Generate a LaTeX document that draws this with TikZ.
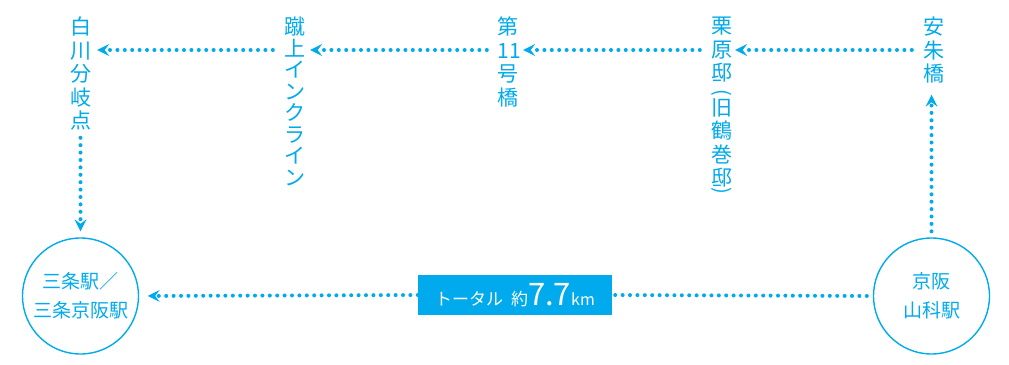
\documentclass[tikz,border=0pt]{standalone}
\usepackage{fontspec}
\setmainfont{Noto Sans CJK JP}
\usetikzlibrary{arrows.meta}
\definecolor{kc}{HTML}{00AAEC}
\tikzset{
  vlabel/.style={text=kc, inner sep=0pt, align=center, anchor=north, text width=21pt,
    font=\fontsize{21}{23.5}\selectfont},
  vparen/.style={text=kc, inner sep=0pt, rotate=-90, font=\fontsize{20}{20}\selectfont},
  station/.style={circle, draw=kc, line width=1.4pt, minimum size=116pt, inner sep=0pt,
    text=kc, align=center, font=\fontsize{19}{29}\selectfont},
  plaindots/.style={draw=kc, line width=4pt, line cap=round, dash pattern=on 0pt off 7.4pt},
  dotline/.style={plaindots, -{Stealth[length=12pt,width=12pt,inset=4.5pt,line width=0pt]}},
  totalbox/.style={fill=kc, text=white, minimum width=194pt, minimum height=40pt, inner sep=0pt}
}
\begin{document}
\begin{tikzpicture}[x=1pt,y=-1pt]
\useasboundingbox (0,0) rectangle (1009,364);
\coordinate (row) at (0,50);
\node[station] (sanjo) at (80.5,296) {三条駅／\\三条京阪駅};
\node[station] (yama) at (931.5,296) {京阪\\山科駅};
\node[vlabel] (shirakawa) at (81,17) {白\\川\\分\\岐\\点};
\node[vlabel, font=\fontsize{21}{21.5}\selectfont] (keage) at (295,17) {蹴\\上\\イ\\ン\\ク\\ラ\\イ\\ン};
\node[vlabel] (dai11) at (508,17) {第\\11\\号\\橋};
\node[vlabel] (kuri) at (722,17) {栗\\原\\邸};
\node[vparen] (kurip1) at (722,93) {(};
\node[vlabel] (kuri2) at (722,98) {旧\\鶴\\巻\\邸};
\node[vparen] (kurip2) at (722,191) {)};
\node[vlabel] (anshu) at (934,17) {安\\朱\\橋};
\node[totalbox] (total) at (515,295)
  {{\fontsize{17}{17}\selectfont トータル\hspace{8pt}約}{\fontsize{31}{31}\selectfont 7.7}{\fontsize{16}{16}\selectfont km}};
\draw[dotline, shorten <=11.5pt, shorten >=2.5pt] (anshu.west |- row) -- (kuri.east |- row);
\draw[dotline, shorten <=11.5pt, shorten >=4.5pt] (kuri.west |- row) -- (dai11.east |- row);
\draw[dotline, shorten <=10.5pt, shorten >=4.5pt] (dai11.west |- row) -- (keage.east |- row);
\draw[dotline, shorten <=11.5pt, shorten >=5.5pt] (keage.west |- row) -- (shirakawa.east |- row);
\draw[dotline, shorten <=7pt, shorten >=6pt] (sanjo.north |- shirakawa.south) -- (sanjo.north);
\draw[dotline, shorten <=6pt, shorten >=11pt] (yama.north) -- (yama.north |- anshu.south);
\draw[plaindots, shorten <=6pt] (yama.west) -- (total.east);
\draw[dotline, shorten >=8.5pt] (total.west) -- (sanjo.east);
\end{tikzpicture}
\end{document}
